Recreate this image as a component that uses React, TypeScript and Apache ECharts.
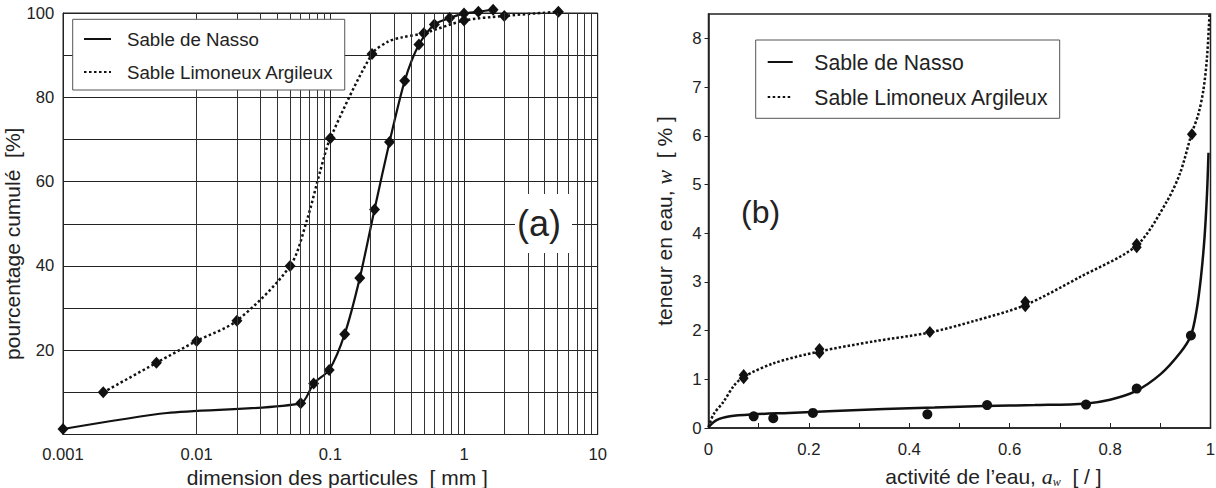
import React, { useEffect, useRef } from "react";
import * as echarts from "echarts";

const SANS = '"Liberation Sans", Arial, Helvetica, sans-serif';
const SERIF = '"Liberation Serif", "Times New Roman", serif';
const INK = "#111";
const TXT = "#222";

const seriesNames = ["Sable de Nasso", "Sable Limoneux Argileux"];

// ---------- (a) courbes granulométriques ----------
const xDecades = [0.001, 0.01, 0.1, 1];
const xMinorMultipliers = [2, 3, 4, 5, 6, 7, 8, 9];
const yLabelsA = [20, 40, 60, 80, 100];

const nassoCurveSize = [0.001, 0.006, 0.06, 0.075, 0.098, 0.128, 0.166, 0.214, 0.277, 0.36, 0.46, 0.6, 0.78, 1.0, 1.28, 1.65];
const nassoCurvePass = [1.3, 5.1, 7.4, 12.1, 15.3, 23.8, 37.1, 53.4, 69.4, 83.9, 92.5, 97.3, 98.8, 99.9, 100.3, 100.8];
const nassoMarkSize = [0.001, 0.06, 0.075, 0.098, 0.128, 0.166, 0.214, 0.277, 0.36, 0.46, 0.6, 0.78, 1.0, 1.28, 1.65];
const nassoMarkPass = [1.3, 7.4, 12.1, 15.3, 23.8, 37.1, 53.4, 69.4, 83.9, 92.5, 97.3, 98.8, 99.9, 100.3, 100.8];

const limonCurveSize = [0.002, 0.005, 0.01, 0.02, 0.05, 0.067, 0.084, 0.1, 0.205, 0.27, 0.34, 0.5, 1.0, 2.0, 5.08];
const limonCurvePass = [10, 17, 22.2, 27, 40, 51, 62.5, 70.3, 90.3, 93.2, 94.2, 95.2, 98.2, 99.3, 100.3];
const limonMarkSize = [0.002, 0.005, 0.01, 0.02, 0.05, 0.1, 0.205, 0.5, 1.0, 2.0, 5.08];
const limonMarkPass = [10, 17, 22.2, 27, 40, 70.3, 90.3, 95.2, 98.2, 99.3, 100.3];

// ---------- (b) isothermes de sorption ----------
const xTicksB = [0, 0.1, 0.2, 0.3, 0.4, 0.5, 0.6, 0.7, 0.8, 0.9, 1];
const xLabelsB = [0, 0.2, 0.4, 0.6, 0.8, 1];
const yTicksB = [0, 1, 2, 3, 4, 5, 6, 7, 8];

const nassoCurveAw = [0, 0.016, 0.043, 0.09, 0.16, 0.25, 0.35, 0.45, 0.55, 0.65, 0.75, 0.8, 0.85, 0.9, 0.94, 0.961, 0.972, 0.981, 0.988, 0.993, 0.996];
const nassoCurveW = [0.02, 0.16, 0.24, 0.28, 0.31, 0.35, 0.39, 0.42, 0.45, 0.47, 0.5, 0.58, 0.75, 1.1, 1.55, 1.9, 2.4, 3.1, 3.9, 4.8, 5.65];
const nassoMarkAw = [0.09, 0.129, 0.208, 0.436, 0.555, 0.752, 0.853, 0.961];
const nassoMarkW = [0.24, 0.2, 0.31, 0.28, 0.47, 0.48, 0.81, 1.9];

const limonCurveAw = [0, 0.01, 0.03, 0.05, 0.07, 0.13, 0.22, 0.33, 0.44, 0.53, 0.63, 0.74, 0.853, 0.913, 0.94, 0.962, 0.976, 0.986, 0.993, 0.998];
const limonCurveW = [0.02, 0.28, 0.54, 0.86, 1.05, 1.33, 1.57, 1.78, 1.96, 2.2, 2.52, 3.1, 3.75, 4.65, 5.25, 6.03, 6.45, 6.95, 7.6, 8.5];
const limonMarkAw = [0.07, 0.07, 0.221, 0.221, 0.441, 0.631, 0.631, 0.853, 0.853, 0.963];
const limonMarkW = [1.09, 1.02, 1.62, 1.54, 1.97, 2.59, 2.5, 3.78, 3.71, 6.03];

const zip = (xs: number[], ys: number[]) => xs.map((x, i) => [x, ys[i]]);
const fmtNum = (v: number) => String(Number(Number(v).toPrecision(3)));

const minorLines = xDecades.flatMap((d) => xMinorMultipliers.map((m) => Number((d * m).toPrecision(3))));

const dotted = [2.5, 2.5];

const legendBase = {
  data: seriesNames,
  orient: "vertical",
  itemHeight: 14,
  itemGap: 11,
  backgroundColor: "#fff",
  borderColor: "#555",
  borderWidth: 1,
  selectedMode: false,
  z: 10,
  itemStyle: { opacity: 0, color: "rgba(0,0,0,0)", borderWidth: 0 },
};

const markerStyle = { color: INK, opacity: 1 };

function buildOption(): any {
  return {
    animation: false,
    backgroundColor: "#fff",
    textStyle: { fontFamily: SANS, color: TXT },
    title: [
      {
        text: "(a)",
        left: 515,
        top: 194,
        padding: [11, 11, 11, 2],
        backgroundColor: "#fff",
        textStyle: { fontFamily: SANS, fontSize: 36, fontWeight: "normal", color: TXT, lineHeight: 37 },
        z: 8,
      },
      {
        text: "(b)",
        left: 741,
        top: 192,
        padding: 0,
        textStyle: { fontFamily: SANS, fontSize: 32, fontWeight: "normal", color: TXT, lineHeight: 40 },
      },
    ],
    legend: [
      {
        ...legendBase,
        left: 72.7,
        top: 19.3,
        itemWidth: 27,
        padding: [8.7, 11, 7, 10.3],
        textStyle: { fontFamily: SANS, fontSize: 18.7, lineHeight: 22, color: TXT, padding: [0, 0, 0, 11] },
      },
      {
        ...legendBase,
        left: 755.7,
        top: 40,
        itemWidth: 25,
        padding: [10, 11, 9.3, 11],
        textStyle: { fontFamily: SANS, fontSize: 21.2, lineHeight: 24, color: TXT, padding: [0, 0, 0, 16.6] },
      },
    ],
    grid: [
      { left: 63, top: 13, width: 534.7, height: 421.5, show: true, borderColor: "#222", borderWidth: 1, outerBoundsMode: "none" },
      { left: 708.5, top: 14, width: 502, height: 414, show: true, borderColor: "#222", borderWidth: 1.5, outerBoundsMode: "none" },
    ],
    xAxis: [
      {
        gridIndex: 0,
        type: "log",
        logBase: 10,
        min: 0.001,
        max: 10,
        axisLine: { lineStyle: { color: "#222", width: 1 } },
        axisTick: { show: false },
        splitLine: { show: true, lineStyle: { color: "#222", width: 1 } },
        axisLabel: { fontFamily: SANS, fontSize: 16.6, color: TXT, margin: 11, formatter: (v: number) => fmtNum(v) },
        name: "dimension des particules  [ mm ]",
        nameLocation: "middle",
        nameGap: 31,
        nameTextStyle: { fontFamily: SANS, fontSize: 21, color: TXT, padding: [0, 0, 0, 14] },
      },
      {
        gridIndex: 1,
        type: "value",
        min: 0,
        max: 1,
        axisLine: { lineStyle: { color: "#222", width: 1.5 } },
        axisTick: { show: true, inside: true, length: 5, lineStyle: { color: "#222", width: 1 }, customValues: xTicksB },
        splitLine: { show: false },
        axisLabel: { fontFamily: SANS, fontSize: 16.8, color: TXT, margin: 12.5, customValues: xLabelsB, formatter: (v: number) => fmtNum(v) },
        name: "activité de l’eau, {i|a}{s|w}  [ / ]",
        nameLocation: "middle",
        nameGap: 36,
        nameTextStyle: {
          fontFamily: SANS,
          fontSize: 21,
          lineHeight: 24,
          color: TXT,
          padding: [0, 0, 0, 68],
          rich: {
            i: { fontFamily: SERIF, fontStyle: "italic", fontSize: 22, lineHeight: 24, color: TXT },
            s: { fontFamily: SERIF, fontStyle: "italic", fontSize: 12, lineHeight: 12, verticalAlign: "bottom", color: TXT },
          },
        },
      },
    ],
    yAxis: [
      {
        gridIndex: 0,
        type: "value",
        min: 0,
        max: 100,
        interval: 10,
        axisLine: { show: true, lineStyle: { color: "#222", width: 1 } },
        axisTick: { show: false },
        splitLine: { show: true, lineStyle: { color: "#222", width: 1 } },
        axisLabel: {
          fontFamily: SANS,
          fontSize: 16.6,
          color: TXT,
          margin: 8.7,
          formatter: (v: number) => (yLabelsA.includes(v) ? String(v) : ""),
        },
        name: "pourcentage cumulé  [%]",
        nameLocation: "middle",
        nameGap: 31,
        nameTextStyle: { fontFamily: SANS, fontSize: 21, color: TXT, padding: [0, 40, 0, 0] },
      },
      {
        gridIndex: 1,
        type: "value",
        min: 0,
        max: 8.5,
        axisLine: { show: true, lineStyle: { color: "#222", width: 1.5 } },
        axisTick: { show: true, inside: false, length: 4, lineStyle: { color: "#222", width: 1 }, customValues: yTicksB },
        splitLine: { show: false },
        axisLabel: { fontFamily: SANS, fontSize: 16.8, color: TXT, margin: 7, customValues: yTicksB, formatter: (v: number) => fmtNum(v) },
        name: "teneur en eau, {i|w}  [ % ]",
        nameLocation: "middle",
        nameGap: 33.5,
        nameTextStyle: {
          fontFamily: SANS,
          fontSize: 21,
          color: TXT,
          rich: { i: { fontFamily: SERIF, fontStyle: "italic", fontSize: 22, color: TXT } },
        },
      },
    ],
    series: [
      {
        name: "grille",
        type: "line",
        xAxisIndex: 0,
        yAxisIndex: 0,
        data: [],
        silent: true,
        markLine: {
          silent: true,
          symbol: ["none", "none"],
          label: { show: false },
          lineStyle: { color: "#333", width: 1, type: "solid" },
          emphasis: { disabled: true },
          data: minorLines.map((v) => ({ xAxis: v })),
        },
      },
      {
        name: seriesNames[0],
        type: "line",
        xAxisIndex: 0,
        yAxisIndex: 0,
        data: zip(nassoCurveSize, nassoCurvePass),
        symbol: "none",
        smooth: 0.25,
        clip: false,
        color: INK,
        lineStyle: { color: INK, width: 2.2 },
        z: 3,
      },
      {
        name: seriesNames[1],
        type: "line",
        xAxisIndex: 0,
        yAxisIndex: 0,
        data: zip(limonCurveSize, limonCurvePass),
        symbol: "none",
        smooth: 0.3,
        clip: false,
        color: INK,
        lineStyle: { color: INK, width: 2.5, type: dotted },
        z: 3,
      },
      {
        name: "Nasso (mesures a)",
        type: "scatter",
        xAxisIndex: 0,
        yAxisIndex: 0,
        data: zip(nassoMarkSize, nassoMarkPass),
        symbol: "diamond",
        symbolSize: [11, 12],
        clip: false,
        itemStyle: markerStyle,
        z: 4,
      },
      {
        name: "Limoneux (mesures a)",
        type: "scatter",
        xAxisIndex: 0,
        yAxisIndex: 0,
        data: zip(limonMarkSize, limonMarkPass),
        symbol: "diamond",
        symbolSize: [11, 12],
        clip: false,
        itemStyle: markerStyle,
        z: 4,
      },
      {
        name: seriesNames[0],
        type: "line",
        xAxisIndex: 1,
        yAxisIndex: 1,
        data: zip(nassoCurveAw, nassoCurveW),
        symbol: "none",
        smooth: 0.3,
        clip: false,
        color: INK,
        lineStyle: { color: INK, width: 2.5 },
        z: 3,
      },
      {
        name: seriesNames[1],
        type: "line",
        xAxisIndex: 1,
        yAxisIndex: 1,
        data: zip(limonCurveAw, limonCurveW),
        symbol: "none",
        smooth: 0.3,
        clip: false,
        color: INK,
        lineStyle: { color: INK, width: 2.5, type: [2.5, 2] },
        z: 3,
      },
      {
        name: "Nasso (mesures b)",
        type: "scatter",
        xAxisIndex: 1,
        yAxisIndex: 1,
        data: zip(nassoMarkAw, nassoMarkW),
        symbol: "circle",
        symbolSize: 10,
        clip: false,
        itemStyle: markerStyle,
        z: 4,
      },
      {
        name: "Limoneux (mesures b)",
        type: "scatter",
        xAxisIndex: 1,
        yAxisIndex: 1,
        data: zip(limonMarkAw, limonMarkW),
        symbol: "diamond",
        symbolSize: [10, 12],
        clip: false,
        itemStyle: markerStyle,
        z: 4,
      },
    ],
  };
}

export default function App() {
  const ref = useRef<HTMLDivElement>(null);
  useEffect(() => {
    if (!ref.current) return;
    const chart = echarts.init(ref.current, null, { renderer: "svg" });
    chart.setOption(buildOption());
    return () => chart.dispose();
  }, []);
  return (
    <div
      ref={ref}
      style={{ position: "fixed", left: 0, top: 0, width: 1216, height: 488, background: "#fff" }}
    />
  );
}
